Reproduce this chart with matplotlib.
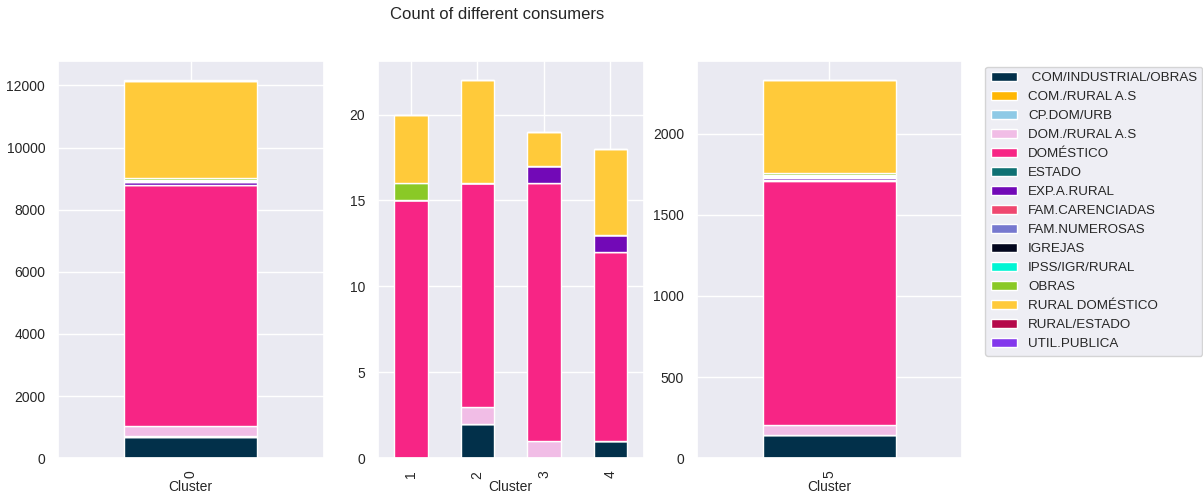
import numpy as np
import matplotlib
matplotlib.use("Agg")
import matplotlib.pyplot as plt
from matplotlib.ticker import MultipleLocator
import seaborn as sns

sns.set_theme(style="darkgrid")
plt.rcParams['font.family'] = ['Liberation Sans', 'DejaVu Sans']

categories = [" COM/INDUSTRIAL/OBRAS", "COM./RURAL A.S", "CP.DOM/URB", "DOM./RURAL A.S",
              "DOMÉSTICO", "ESTADO", "EXP.A.RURAL", "FAM.CARENCIADAS", "FAM.NUMEROSAS",
              "IGREJAS", "IPSS/IGR/RURAL", "OBRAS", "RURAL DOMÉSTICO", "RURAL/ESTADO",
              "UTIL.PUBLICA"]
colors = ["#02304a", "#ffb703", "#8ecae6", "#f1bde6", "#f72585", "#0f7173", "#7209b7",
          "#ef476f", "#7678cf", "#03071e", "#00f5d4", "#8ac926", "#ffca3a", "#b5094a",
          "#8338ec"]

# counts per category for each cluster
cluster_0 = [680, 15, 5, 345, 7735, 30, 70, 25, 10, 20, 15, 60, 3130, 10, 20]
cluster_1 = [0, 0, 0, 0, 15, 0, 0, 0, 0, 0, 0, 1, 4, 0, 0]
cluster_2 = [2, 0, 0, 1, 13, 0, 0, 0, 0, 0, 0, 0, 6, 0, 0]
cluster_3 = [0, 0, 0, 1, 15, 0, 1, 0, 0, 0, 0, 0, 2, 0, 0]
cluster_4 = [1, 0, 0, 0, 11, 0, 1, 0, 0, 0, 0, 0, 5, 0, 0]
cluster_5 = [143, 0, 0, 63, 1505, 6, 10, 8, 0, 6, 3, 12, 572, 0, 2]

panels = [
    (["0"], [cluster_0], None),
    (["1", "2", "3", "4"], [cluster_1, cluster_2, cluster_3, cluster_4], 5),
    (["5"], [cluster_5], None),
]

fig = plt.figure(figsize=(12.03, 4.98), dpi=100)
lefts = [0.048, 0.314, 0.579]
handles = None
for left, (labels, data, step) in zip(lefts, panels):
    ax = fig.add_axes([left, 0.080, 0.221, 0.797])
    vals = np.array(data, dtype=float)  # rows: clusters, cols: categories
    x = np.arange(len(labels))
    bottom = np.zeros(len(labels))
    hs = []
    for j, (cat, col) in enumerate(zip(categories, colors)):
        h = ax.bar(x, vals[:, j], 0.5, bottom=bottom, color=col, edgecolor="white",
                   linewidth=1.0, label=cat)
        hs.append(h)
        bottom += vals[:, j]
    handles = hs
    ax.set_xlim(-0.5, len(labels) - 0.5)
    ax.set_ylim(0, bottom.max() * 1.05)
    if step:
        ax.yaxis.set_major_locator(MultipleLocator(step))
    ax.set_xticks(x)
    ax.set_xticklabels(labels, rotation=90)
    ax.set_xlabel("Cluster", fontsize=10, labelpad=1)
    ax.tick_params(labelsize=10, pad=3)

fig.suptitle("Count of different consumers", fontsize=12, x=0.413, y=0.985)
leg = fig.legend(handles, categories, loc="upper left", bbox_to_anchor=(0.819, 0.866),
                 fontsize=9.6, labelspacing=0.5, frameon=True, borderaxespad=0,
                 handlelength=2.0)
leg.get_frame().set_facecolor("#eaeaf2")
leg.get_frame().set_edgecolor("#cccccc")

fig.savefig("out.png", dpi=100)
